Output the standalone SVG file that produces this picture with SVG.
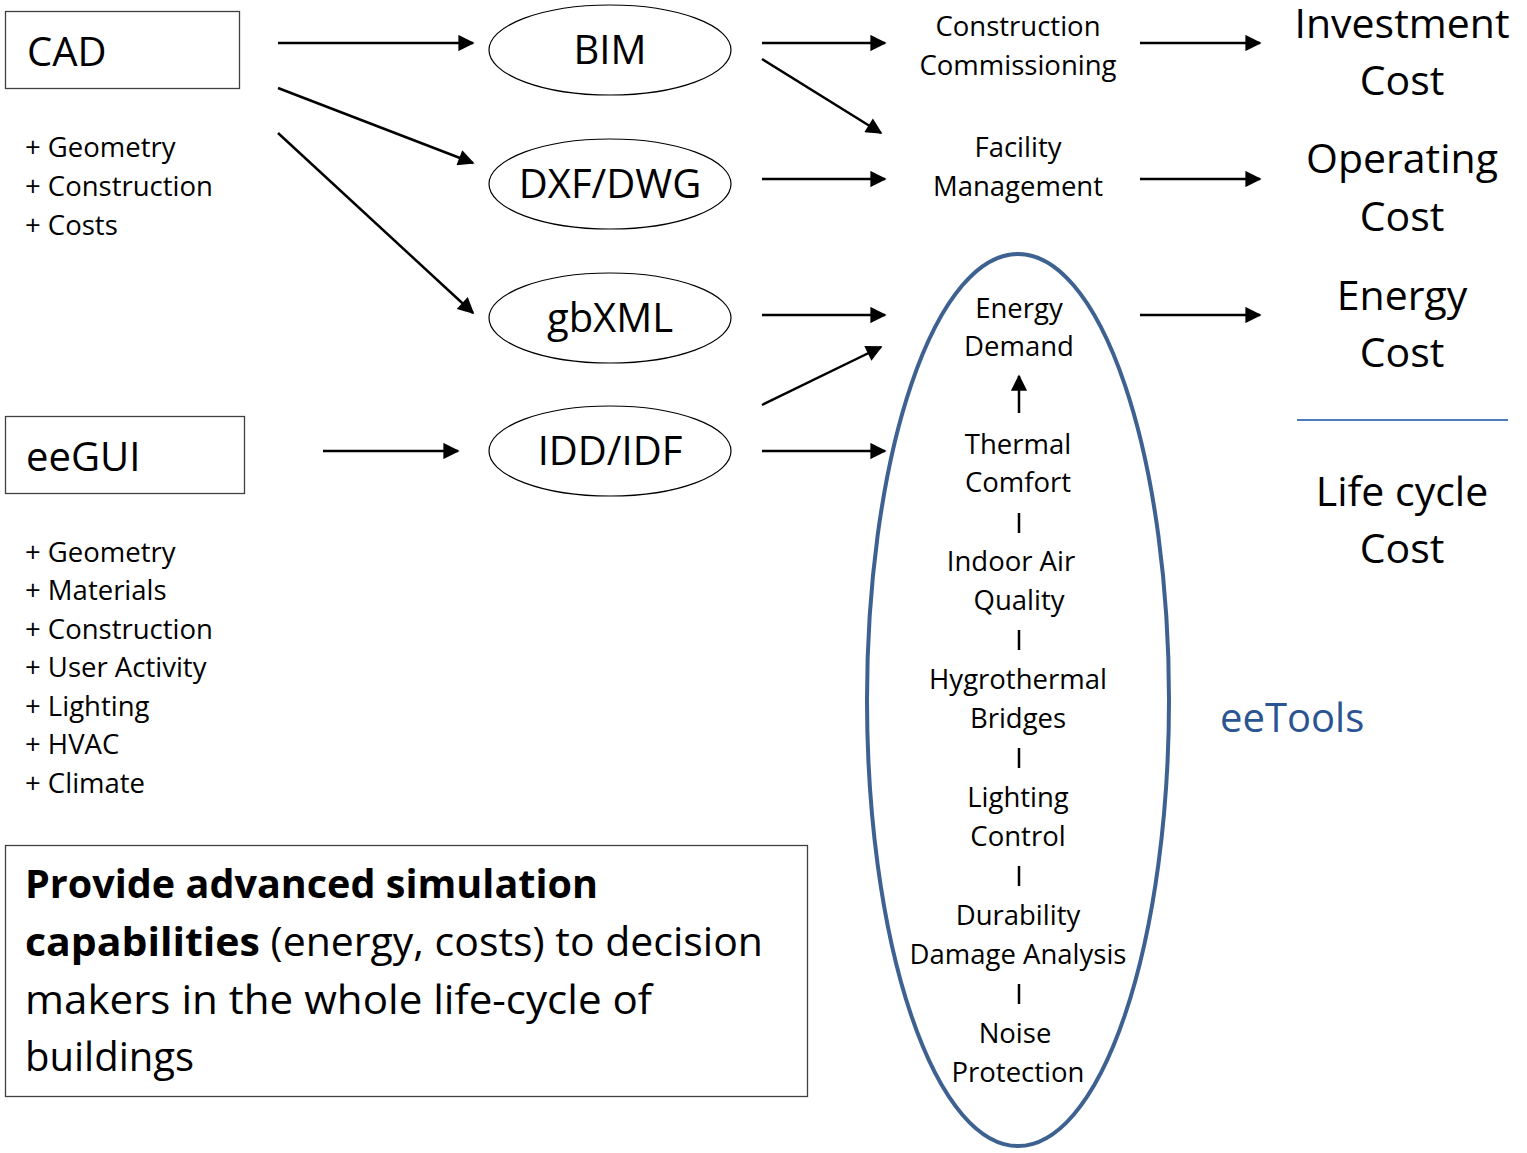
<svg xmlns="http://www.w3.org/2000/svg" width="1527" height="1153" viewBox="0 0 1527 1153">
  <style>
    text { font-family: "Open Sans", "Noto Sans", "Liberation Sans", sans-serif; fill: #000; }
    .box { fill: #fff; stroke: #404040; stroke-width: 1.3; }
    .fmt { fill: #fff; stroke: #000; stroke-width: 1.2; }
    .big { font-size: 40px; }
    .cost { font-size: 41px; }
    .mid { font-size: 27.5px; }
    .c { text-anchor: middle; }
    .edge { stroke: #000; stroke-width: 2.5; fill: none; marker-end: url(#head); }
    .bar { stroke: #000; stroke-width: 2.5; }
  </style>
  <defs>
    <marker id="head" viewBox="0 0 10 10" refX="9" refY="5" markerWidth="7" markerHeight="6.5" markerUnits="strokeWidth" orient="auto">
      <path d="M0,0 L10,5 L0,10 Z" fill="#000"/>
    </marker>
  </defs>
  <rect width="1527" height="1153" fill="#fff"/>

  <!-- sources -->
  <g id="cad">
    <rect class="box" x="5.5" y="11.5" width="234" height="77"/>
    <text class="big" x="27" y="66">CAD</text>
  </g>
  <g id="cad-props" class="mid">
    <text x="25" y="157">+ Geometry</text>
    <text x="25" y="196">+ Construction</text>
    <text x="25" y="235">+ Costs</text>
  </g>
  <g id="eegui">
    <rect class="box" x="5.5" y="416.5" width="239" height="77"/>
    <text class="big" x="26" y="471">eeGUI</text>
  </g>
  <g id="eegui-props" class="mid">
    <text x="25" y="562">+ Geometry</text>
    <text x="25" y="600">+ Materials</text>
    <text x="25" y="639">+ Construction</text>
    <text x="25" y="677">+ User Activity</text>
    <text x="25" y="716">+ Lighting</text>
    <text x="25" y="754">+ HVAC</text>
    <text x="25" y="793">+ Climate</text>
  </g>

  <!-- exchange formats -->
  <g id="bim">
    <ellipse class="fmt" cx="610" cy="50" rx="121" ry="45"/>
    <text class="big c" x="610" y="64">BIM</text>
  </g>
  <g id="dxf-dwg">
    <ellipse class="fmt" cx="610" cy="184" rx="121" ry="45"/>
    <text class="big c" x="610" y="198">DXF/DWG</text>
  </g>
  <g id="gbxml">
    <ellipse class="fmt" cx="610" cy="318" rx="121" ry="45"/>
    <text class="big c" x="610" y="332">gbXML</text>
  </g>
  <g id="idd-idf">
    <ellipse class="fmt" cx="610" cy="451" rx="121" ry="45"/>
    <text class="big c" x="610" y="465">IDD/IDF</text>
  </g>

  <!-- life-cycle phases -->
  <g id="construction" class="mid c">
    <text x="1018" y="36">Construction</text>
    <text x="1018" y="75">Commissioning</text>
  </g>
  <g id="facility" class="mid c">
    <text x="1018" y="157">Facility</text>
    <text x="1018" y="196">Management</text>
  </g>

  <!-- eeTools simulation scope -->
  <g id="eetools">
    <ellipse cx="1018" cy="700" rx="151" ry="446" fill="none" stroke="#3d6190" stroke-width="4"/>
    <g class="mid c">
      <text x="1019" y="318">Energy</text>
      <text x="1019" y="356">Demand</text>
      <text x="1018" y="454">Thermal</text>
      <text x="1018" y="492">Comfort</text>
      <text x="1011" y="571">Indoor Air</text>
      <text x="1019" y="610">Quality</text>
      <text x="1018" y="689">Hygrothermal</text>
      <text x="1018" y="728">Bridges</text>
      <text x="1018" y="807">Lighting</text>
      <text x="1018" y="846">Control</text>
      <text x="1018" y="925">Durability</text>
      <text x="1018" y="964">Damage Analysis</text>
      <text x="1015" y="1043">Noise</text>
      <text x="1018" y="1082">Protection</text>
    </g>
    <text class="big" x="1220" y="732" style="fill:#2b5592">eeTools</text>
  </g>

  <!-- cost categories -->
  <g id="investment-cost" class="cost c">
    <text x="1402" y="38">Investment</text>
    <text x="1402" y="95">Cost</text>
  </g>
  <g id="operating-cost" class="cost c">
    <text x="1402" y="173">Operating</text>
    <text x="1402" y="231">Cost</text>
  </g>
  <g id="energy-cost" class="cost c">
    <text x="1402" y="310">Energy</text>
    <text x="1402" y="367">Cost</text>
  </g>
  <g id="life-cycle-cost">
    <line x1="1297" y1="420" x2="1508" y2="420" stroke="#4a7ebb" stroke-width="2"/>
    <g class="cost c">
      <text x="1402" y="506">Life cycle</text>
      <text x="1402" y="563">Cost</text>
    </g>
  </g>

  <!-- goal statement -->
  <g id="goal">
    <rect class="box" x="5.5" y="845.5" width="802" height="251"/>
    <text class="big" x="25" y="898" font-weight="bold" textLength="573" lengthAdjust="spacingAndGlyphs">Provide advanced simulation</text>
    <text class="big" x="25" y="956" textLength="738" lengthAdjust="spacingAndGlyphs"><tspan font-weight="bold">capabilities</tspan> (energy, costs) to decision</text>
    <text class="big" x="25" y="1014" textLength="627" lengthAdjust="spacingAndGlyphs">makers in the whole life-cycle of</text>
    <text class="big" x="25" y="1071">buildings</text>
  </g>

  <!-- connectors -->
  <g id="connectors">
    <line class="edge" x1="278" y1="43" x2="473" y2="43"/>
    <line class="edge" x1="278" y1="88" x2="473" y2="163"/>
    <line class="edge" x1="278" y1="133" x2="473" y2="313"/>
    <line class="edge" x1="323" y1="451" x2="458" y2="451"/>

    <line class="edge" x1="762" y1="43" x2="885" y2="43"/>
    <line class="edge" x1="762" y1="59" x2="881" y2="133"/>
    <line class="edge" x1="762" y1="179" x2="885" y2="179"/>
    <line class="edge" x1="762" y1="315" x2="885" y2="315"/>
    <line class="edge" x1="762" y1="405" x2="881" y2="347"/>
    <line class="edge" x1="762" y1="451" x2="885" y2="451"/>

    <line class="edge" x1="1140" y1="43" x2="1260" y2="43"/>
    <line class="edge" x1="1140" y1="179" x2="1260" y2="179"/>
    <line class="edge" x1="1140" y1="315" x2="1260" y2="315"/>

    <line class="edge" x1="1019" y1="413" x2="1019" y2="376"/>
    <line class="bar" x1="1019" y1="513" x2="1019" y2="533"/>
    <line class="bar" x1="1019" y1="630" x2="1019" y2="650"/>
    <line class="bar" x1="1019" y1="748" x2="1019" y2="768"/>
    <line class="bar" x1="1019" y1="866" x2="1019" y2="886"/>
    <line class="bar" x1="1019" y1="984" x2="1019" y2="1004"/>
  </g>
</svg>
